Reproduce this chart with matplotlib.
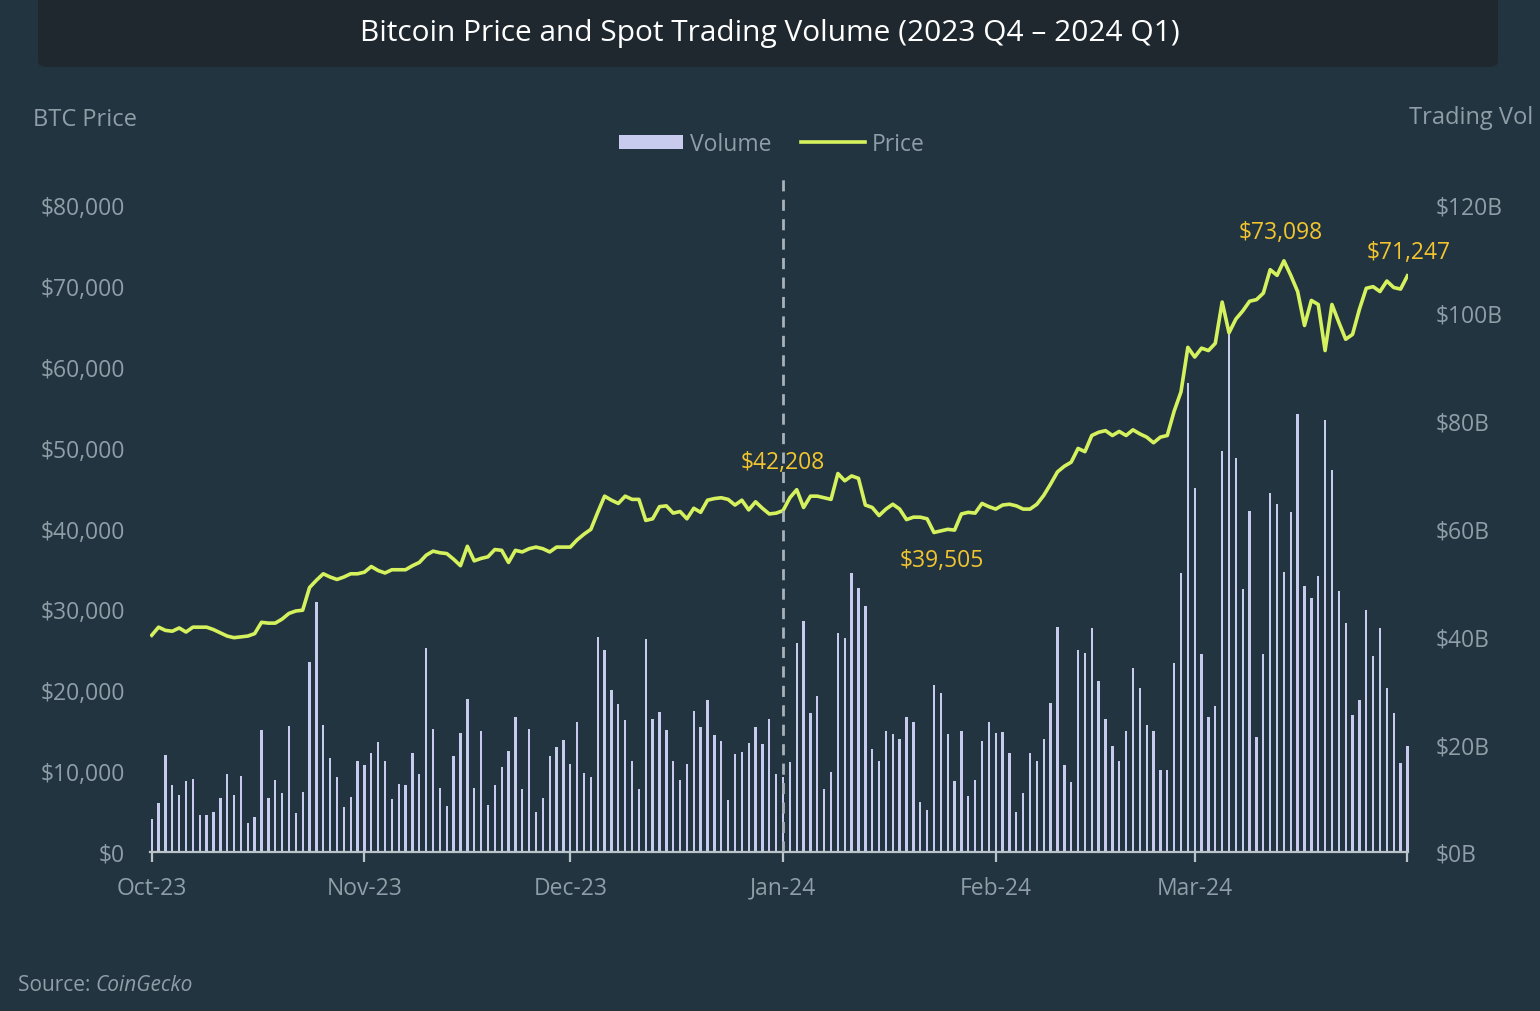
import matplotlib

matplotlib.use("Agg")
import matplotlib.pyplot as plt  # noqa: E402
import matplotlib.dates as mdates  # noqa: E402
from matplotlib.lines import Line2D  # noqa: E402
from matplotlib.patches import FancyBboxPatch, Patch  # noqa: E402
from matplotlib.ticker import FuncFormatter, FixedLocator  # noqa: E402
import pandas as pd  # noqa: E402

plt.rcParams["font.family"] = ["Open Sans", "DejaVu Sans"]

# daily BTC close, thousands of USD (Oct 1 2023 .. Apr 1 2024)
PRICE_OCT = [26.8, 27.8, 27.4, 27.3, 27.7, 27.2, 27.8, 27.8, 27.8, 27.5,
             27.1, 26.7, 26.5, 26.6, 26.7, 27.0, 28.4, 28.3, 28.3, 28.8,
             29.5, 29.8, 29.9, 32.7, 33.6, 34.4, 34.0, 33.7, 34.0, 34.4, 34.4]
PRICE_NOV = [34.6, 35.3, 34.8, 34.5, 34.9, 34.9, 34.9, 35.4, 35.8, 36.7,
             37.2, 37.0, 36.9, 36.2, 35.4, 37.8, 36.0, 36.3, 36.5, 37.4,
             37.3, 35.8, 37.3, 37.1, 37.5, 37.7, 37.5, 37.1, 37.7, 37.7]
PRICE_DEC = [37.7, 38.6, 39.3, 39.9, 42.0, 44.0, 43.5, 43.1, 44.0, 43.6,
             43.6, 41.0, 41.2, 42.7, 42.8, 41.9, 42.1, 41.2, 42.5, 42.0,
             43.5, 43.7, 43.8, 43.6, 42.9, 43.5, 42.3, 43.3, 42.5, 41.8, 41.9]
PRICE_JAN = [42.208, 43.8, 44.8, 42.6, 44.0, 44.0, 43.8, 43.6, 46.8, 45.9,
             46.5, 46.2, 42.9, 42.6, 41.6, 42.4, 43.0, 42.4, 41.1, 41.4,
             41.4, 41.2, 39.505, 39.7, 39.9, 39.8, 41.8, 42.0, 41.9, 43.1, 42.7]
PRICE_FEB = [42.4, 42.9, 43.0, 42.8, 42.4, 42.4, 43.0, 44.1, 45.5, 47.0,
             47.7, 48.2, 49.9, 49.5, 51.5, 51.9, 52.1, 51.5, 52.0, 51.5,
             52.2, 51.7, 51.3, 50.6, 51.3, 51.5, 54.5, 56.9, 62.4]
PRICE_MAR = [61.2, 62.3, 62.0, 62.9, 68.0, 64.2, 65.9, 66.9, 68.1, 68.3,
             69.1, 72.0, 71.3, 73.098, 71.3, 69.3, 65.1, 68.2, 67.7, 62.0,
             67.7, 65.5, 63.4, 64.0, 67.1, 69.7, 69.9, 69.3, 70.6, 69.8,
             69.6, 71.247]

# daily spot trading volume, billions of USD
VOL_OCT = [6.1, 9.1, 17.9, 12.5, 10.6, 13.2, 13.6, 6.9, 6.9, 7.4,
           10.0, 14.4, 10.6, 14.1, 5.3, 6.4, 22.6, 10.1, 13.3, 10.9,
           23.3, 7.2, 11.1, 35.3, 46.3, 23.6, 17.5, 14.0, 8.3, 10.2, 16.9]
VOL_NOV = [16.2, 18.4, 20.4, 16.9, 9.8, 12.6, 12.5, 18.4, 14.5, 37.9,
           22.9, 11.8, 8.6, 17.8, 22.1, 28.3, 11.8, 22.4, 8.7, 12.4,
           15.8, 18.7, 25.0, 11.7, 22.8, 7.4, 10.0, 17.8, 19.5, 20.8]
VOL_DEC = [16.4, 24.2, 14.7, 13.9, 39.9, 37.5, 30.1, 27.4, 24.5, 16.8,
           11.6, 39.5, 24.7, 26.0, 22.7, 16.9, 13.3, 16.3, 26.2, 23.1,
           28.1, 21.7, 20.5, 9.6, 18.1, 18.5, 20.2, 23.1, 20.0, 24.6, 14.5]
VOL_JAN = [13.9, 16.6, 38.8, 42.9, 25.8, 29.0, 11.6, 14.9, 40.7, 39.6,
           51.7, 49.0, 45.6, 19.1, 16.8, 22.4, 21.8, 21.0, 25.0, 24.2,
           9.3, 7.8, 30.9, 29.4, 21.9, 13.2, 22.4, 10.4, 13.4, 20.5, 24.2]
VOL_FEB = [22.0, 22.2, 18.4, 7.5, 11.0, 18.4, 16.9, 21.0, 27.6, 41.8,
           16.2, 12.9, 37.4, 37.0, 41.6, 31.8, 24.6, 19.7, 16.8, 22.4,
           34.2, 30.4, 23.5, 22.4, 15.3, 15.3, 35.1, 51.8, 87.0]
VOL_MAR = [67.5, 36.7, 25.1, 27.1, 74.4, 96.3, 73.1, 48.8, 63.3, 21.3,
           36.7, 66.5, 64.6, 52.0, 63.0, 81.2, 49.3, 47.1, 51.1, 80.1,
           70.8, 48.4, 42.5, 25.5, 28.1, 44.8, 36.3, 41.5, 30.5, 25.8,
           16.5, 19.7]

PRICE_TICKS = [0, 10000, 20000, 30000, 40000, 50000, 60000, 70000, 80000]
VOL_TICKS = [0, 20, 40, 60, 80, 100, 120]
MONTHS = ["2023-10-01", "2023-11-01", "2023-12-01", "2024-01-01",
          "2024-02-01", "2024-03-01", "2024-04-01"]
# (date, label offset in points) for the gold callouts
CALLOUTS = [("2024-01-01", (0, 35)), ("2024-01-23", (6, -20)),
            ("2024-03-14", (-2, 21)), ("2024-04-01", (1, 17))]

BG = "#213440"
TITLE_BG = "#1f282e"
BAR_C = "#c8cbee"
LINE_C = "#d5f25e"
GOLD = "#f2c530"
TXT = "#8f9ea7"
AXIS_C = "#b9c3c8"
FS = 16.5

price = [p * 1000 for p in PRICE_OCT + PRICE_NOV + PRICE_DEC + PRICE_JAN + PRICE_FEB + PRICE_MAR]
vol = VOL_OCT + VOL_NOV + VOL_DEC + VOL_JAN + VOL_FEB + VOL_MAR
dates = pd.date_range("2023-10-01", periods=len(price), freq="D")

W, H = 1540, 1012
fig = plt.figure(figsize=(W / 100, H / 100), dpi=100, facecolor=BG)

# title banner (rounded at the bottom, runs off the top edge)
fig.patches.append(FancyBboxPatch((38 / W, 1 - 68 / H), 1460 / W, 90 / H,
                                  boxstyle="round,pad=0,rounding_size=0.006",
                                  transform=fig.transFigure, facecolor=TITLE_BG,
                                  edgecolor="none", zorder=0))
fig.text(0.5, 1 - 33 / H, "Bitcoin Price and Spot Trading Volume (2023 Q4 \u2013 2024 Q1)",
         ha="center", va="center", color="white", fontsize=21.5)

ax_p = fig.add_axes([150 / W, 1 - 853 / H, (1408 - 150) / W, 675 / H])
ax_v = ax_p.twinx()
ax_p.set_zorder(ax_v.get_zorder() + 1)
ax_p.patch.set_visible(False)
ax_v.patch.set_visible(False)

ax_v.bar(dates, vol, width=0.34, color=BAR_C, clip_on=False)
ax_p.plot(dates, price, color=LINE_C, linewidth=2.6, solid_joinstyle="round")
ax_p.axvline(pd.Timestamp("2024-01-01"), color="#a7b1b8", linestyle=(0, (4, 3)),
             linewidth=2, zorder=5)

for d, off in CALLOUTS:
    i = dates.get_loc(pd.Timestamp(d))
    ax_p.annotate(f"${price[i]:,.0f}", (dates[i], price[i]), xytext=off,
                  textcoords="offset points", ha="center", va="center",
                  color=GOLD, fontsize=FS, zorder=6)

ax_p.set_xlim(dates[0] - pd.Timedelta(hours=6), dates[-1] + pd.Timedelta(hours=2))
ax_p.set_ylim(0, 80000 * 675 / 647)
ax_v.set_ylim(0, 120 * 675 / 647)

ax_p.set_yticks(PRICE_TICKS)
ax_p.yaxis.set_major_formatter(FuncFormatter(lambda v, _: f"${v:,.0f}"))
ax_v.set_yticks(VOL_TICKS)
ax_v.yaxis.set_major_formatter(FuncFormatter(lambda v, _: f"${v:.0f}B"))

month_ts = [pd.Timestamp(m) for m in MONTHS]
ax_p.xaxis.set_major_locator(FixedLocator(mdates.date2num(month_ts)))
ax_p.set_xticklabels([m.strftime("%b-%y") for m in month_ts[:-1]] + [""])

for a in (ax_p, ax_v):
    for s in a.spines.values():
        s.set_visible(False)
ax_p.spines["bottom"].set_visible(True)
ax_p.spines["bottom"].set_color(AXIS_C)
ax_p.spines["bottom"].set_linewidth(1.6)

ax_p.tick_params(axis="x", colors=AXIS_C, length=7, width=1.6, pad=10,
                 labelcolor=TXT, labelsize=FS)
ax_p.tick_params(axis="y", length=0, pad=18, labelcolor=TXT, labelsize=FS)
ax_v.tick_params(axis="y", length=0, pad=20, labelcolor=TXT, labelsize=FS)

fig.text(33 / W, 1 - 120 / H, "BTC Price", ha="left", va="center", color=TXT, fontsize=FS + 0.5)
fig.text(1533 / W, 1 - 118 / H, "Trading Vol", ha="right", va="center", color=TXT, fontsize=FS + 0.5)

handles = [Patch(facecolor=BAR_C, edgecolor="none"),
           Line2D([0], [0], color=LINE_C, linewidth=2.6)]
fig.legend(handles, ["Volume", "Price"], loc="center", bbox_to_anchor=(772 / W, 1 - 145 / H),
           ncol=2, frameon=False, fontsize=FS, labelcolor=TXT, handlelength=2.8,
           handleheight=0.6, handletextpad=0.3, columnspacing=1.3)

fig.text(18 / W, 1 - 986 / H, "Source: ", ha="left", va="center", color=TXT, fontsize=15)
fig.text(95 / W, 1 - 986 / H, "CoinGecko", ha="left", va="center", color=TXT,
         fontsize=15, style="italic")

fig.savefig("out.png", dpi=100, facecolor=BG)
